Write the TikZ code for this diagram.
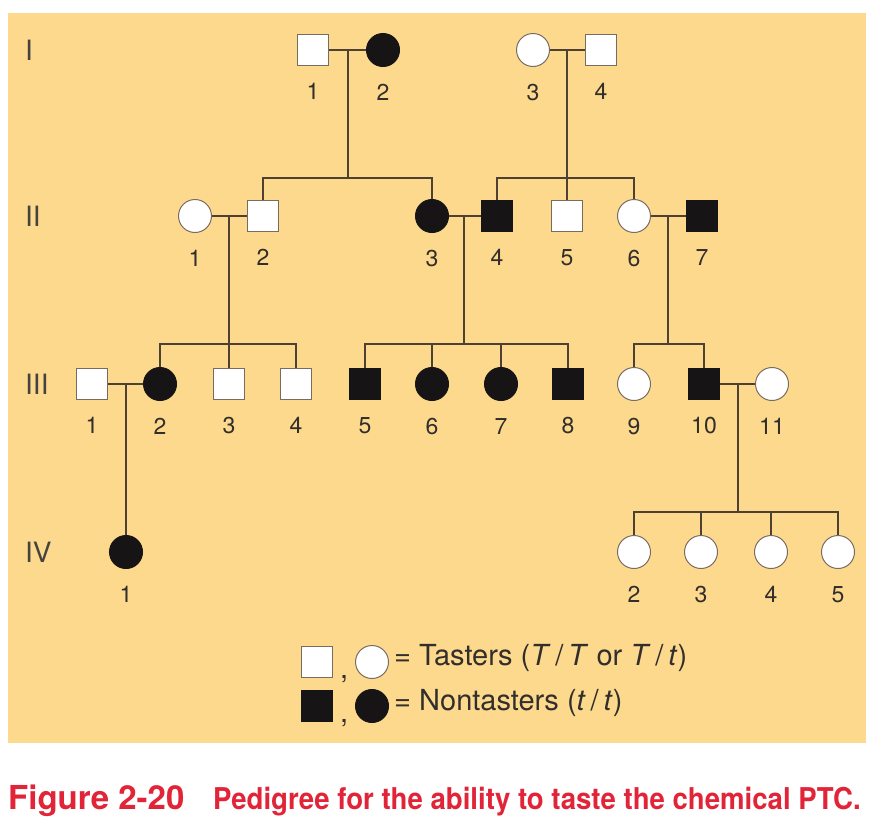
\documentclass[tikz,border=0pt]{standalone}
\usepackage{fontspec}
\setmainfont{TeX Gyre Heros}
\newfontfamily\capfont[FakeStretch=0.92]{TeX Gyre Heros}
\usetikzlibrary{positioning}
\definecolor{bgorange}{RGB}{252,217,140}
\definecolor{lncol}{RGB}{78,64,50}
\definecolor{olcol}{RGB}{120,108,96}
\definecolor{affcol}{RGB}{22,20,20}
\definecolor{numcol}{RGB}{50,46,44}
\definecolor{gencol}{RGB}{70,66,64}
\definecolor{capred}{RGB}{226,36,56}
\newcommand{\fsz}[1]{\fontsize{#1}{#1}\selectfont}

\begin{document}
\begin{tikzpicture}[x=1pt,y=1pt,
 male/.style={draw=olcol,fill=white,line width=1pt,minimum size=31pt,inner sep=0pt},
 female/.style={circle,draw=olcol,fill=white,line width=1pt,minimum size=33pt,inner sep=0pt},
 aff/.style={draw=affcol,fill=affcol},
 num/.style={font=\fsz{23},text=numcol,inner sep=0pt,yshift=-17pt},
 gen/.style={font=\fsz{28},text=gencol,inner sep=0pt,anchor=west},
 link/.style={draw=lncol,line width=1.3pt},
 legtxt/.style={font=\fsz{29},text=numcol,inner sep=0pt,anchor=base west}]
\useasboundingbox (0,0) rectangle (874,-830);
\fill[bgorange] (8,-13) rectangle (866,-743);
% generation labels
\node[gen] (gI) at (25,-50) {I};
\node[gen] (gII) at (25,-216) {II};
\node[gen] (gIII) at (25,-384) {III};
\node[gen] (gIV) at (25,-552) {IV};
% generation I
\node[male,label={[num]below:1}] (I1) at (313,-50) {};
\node[female,aff,label={[num]below:2}] (I2) at (383,-50) {};
\node[female,label={[num]below:3}] (I3) at (533,-50) {};
\node[male,label={[num]below:4}] (I4) at (601,-50) {};
% generation II
\node[female,label={[num]below:1}] (II1) at (195,-216) {};
\node[male,label={[num]below:2}] (II2) at (263,-216) {};
\node[female,aff,label={[num]below:3}] (II3) at (432,-216) {};
\node[male,aff,label={[num]below:4}] (II4) at (497,-216) {};
\node[male,label={[num]below:5}] (II5) at (567,-216) {};
\node[female,label={[num]below:6}] (II6) at (634,-216) {};
\node[male,aff,label={[num]below:7}] (II7) at (702,-216) {};
% generation III
\node[male,label={[num]below:1}] (III1) at (92,-384) {};
\node[female,aff,label={[num]below:2}] (III2) at (160,-384) {};
\node[male,label={[num]below:3}] (III3) at (229,-384) {};
\node[male,label={[num]below:4}] (III4) at (296,-384) {};
\node[male,aff,label={[num]below:5}] (III5) at (365,-384) {};
\node[female,aff,label={[num]below:6}] (III6) at (432,-384) {};
\node[female,aff,label={[num]below:7}] (III7) at (501,-384) {};
\node[male,aff,label={[num]below:8}] (III8) at (568,-384) {};
\node[female,label={[num]below:9}] (III9) at (634,-384) {};
\node[male,aff,label={[num]below:10}] (III10) at (704,-384) {};
\node[female,label={[num]below:11}] (III11) at (772,-384) {};
% generation IV
\node[female,aff,label={[num]below:1}] (IV1) at (126,-552) {};
\node[female,label={[num]below:2}] (IV2) at (634,-552) {};
\node[female,label={[num]below:3}] (IV3) at (701,-552) {};
\node[female,label={[num]below:4}] (IV4) at (771,-552) {};
\node[female,label={[num]below:5}] (IV5) at (838,-552) {};
% matings and sibships
\coordinate (mI12) at (348,-50); \coordinate (jI12) at (348,-178);
\coordinate (mI34) at (567,-50); \coordinate (jI34) at (567,-178);
\coordinate (mII12) at (229,-216); \coordinate (jII12) at (229,-344);
\coordinate (mII34) at (464,-216); \coordinate (jII34) at (464,-344);
\coordinate (mII67) at (668,-216); \coordinate (jII67) at (668,-344);
\coordinate (mIII12) at (126,-384);
\coordinate (mIII1011) at (738,-384); \coordinate (jIII1011) at (738,-512);
\draw[link] (I1)--(I2); \draw[link] (I3)--(I4);
\draw[link] (mI12)--(jI12); \draw[link] (II2.north) |- (jI12) -| (II3.north);
\draw[link] (mI34)--(II5.north); \draw[link] (II4.north) |- (jI34) -| (II6.north);
\draw[link] (II1)--(II2); \draw[link] (II3)--(II4); \draw[link] (II6)--(II7);
\draw[link] (mII12)--(III3.north); \draw[link] (III2.north) |- (jII12) -| (III4.north);
\draw[link] (mII34)--(jII34); \draw[link] (III5.north) |- (jII34) -| (III8.north);
\draw[link] (III6.north)--(III6.north |- jII34); \draw[link] (III7.north)--(III7.north |- jII34);
\draw[link] (mII67)--(jII67); \draw[link] (III9.north) |- (jII67) -| (III10.north);
\draw[link] (III1)--(III2); \draw[link] (III10)--(III11);
\draw[link] (mIII12)--(IV1.north);
\draw[link] (mIII1011)--(jIII1011); \draw[link] (IV2.north) |- (jIII1011) -| (IV5.north);
\draw[link] (IV3.north)--(IV3.north |- jIII1011); \draw[link] (IV4.north)--(IV4.north |- jIII1011);
% key
\node[male] (LgM) at (317,-662) {};
\node[female] (LgF) at (372,-662) {};
\node[male,aff] (LgMa) at (317,-706) {};
\node[female,aff] (LgFa) at (372,-706) {};
\node[legtxt] (cm1) at (340,-678) {,};
\node[legtxt] (cm2) at (340,-722) {,};
\node[legtxt] (LgT) at (394,-665) {= Tasters (\textit{T}\,/\,\textit{T} or \textit{T}\,/\,\textit{t})};
\node[legtxt] (LgN) at (394,-710) {= Nontasters (\textit{t}\,/\,\textit{t})};
% caption
\node[anchor=base west,inner sep=0pt,font=\fsz{33}\bfseries,text=capred] (capA) at (8,-809) {Figure 2-20};
\node[anchor=base west,inner sep=0pt,font=\capfont\fsz{30}\bfseries,text=capred] (capB) at (213,-809)
 {Pedigree for the ability to taste the chemical PTC.};
\end{tikzpicture}
\end{document}
